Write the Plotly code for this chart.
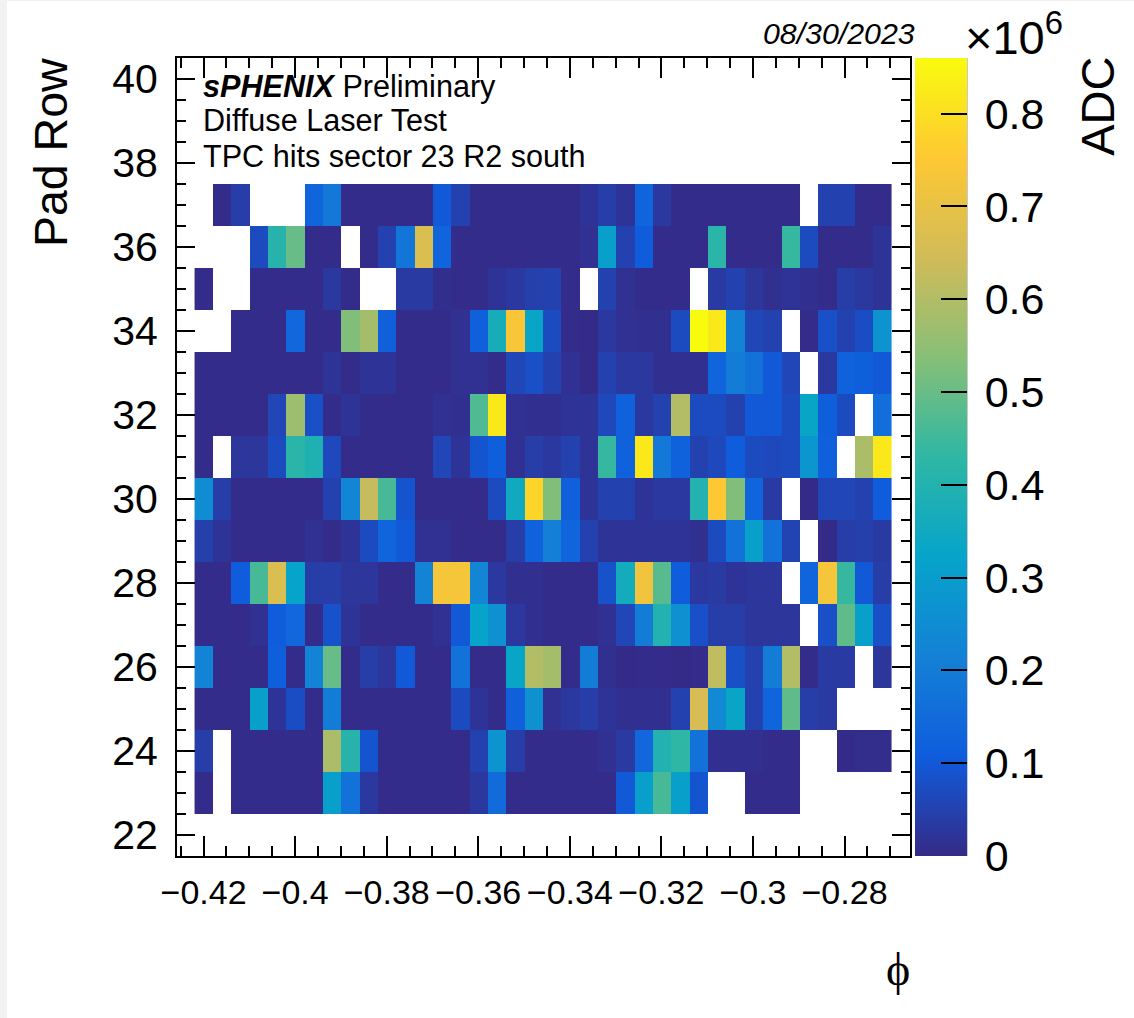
import plotly.graph_objects as go

N = None
a = 0.005
pad_rows = list(range(23, 38))

row_23 = [a,N,a,a,a,a,a,.31,.17,.03,a,a,a,a,a,.03,.15,a,a,a,a,a,a,.10,.31,.46,.31,.09,N,N,a,a,a,N,N,N,N,N]
row_24 = [.04,N,a,a,a,a,a,.59,.41,.09,a,a,a,a,a,.05,.27,.04,a,a,a,a,.015,.035,.14,.40,.43,.17,.01,.01,.01,a,a,N,N,.003,.006,.006]
row_25 = [a,a,a,.31,.02,.075,a,.20,a,a,a,a,a,a,.07,.02,a,.12,.26,.015,.03,.04,.02,.01,.01,.01,.05,.66,.24,.33,.05,.13,.49,.04,.035,N,N,N]
row_26 = [.22,a,a,a,.115,a,.22,.50,a,.04,.025,.10,a,a,.17,a,a,.33,.60,.58,a,.20,.01,.002,a,a,.002,.005,.62,.08,.05,.20,.60,a,.035,.035,N,.025]
row_27 = [a,a,a,.015,.11,.14,a,.085,.02,a,a,a,a,.015,.10,.32,.26,.03,.01,a,a,a,.015,.06,.20,.40,.26,.08,.04,.04,.025,.025,.025,N,.08,.49,.31,.08]
row_28 = [a,a,.11,.46,.67,.32,.04,.04,.025,.025,a,a,.22,.73,.73,.23,.03,.01,.01,a,a,a,.085,.36,.72,.48,.11,.03,.035,.02,.025,.025,N,.13,.73,.44,.10,.04]
row_29 = [.045,.02,a,a,a,a,.015,a,.02,.07,.13,.10,.015,.015,a,a,a,.04,.125,.21,.13,.05,.02,.02,.02,.02,.02,.01,.07,.17,.31,.17,.055,N,.002,.04,.045,.035]
row_30 = [.25,.04,a,a,a,a,a,.05,.23,.63,.46,.09,a,a,a,a,.07,.35,.78,.53,.12,.02,.05,.05,.02,.03,.03,.40,.75,.53,.13,.035,N,.002,.06,.06,.05,.11]
row_31 = [a,N,.025,.025,.07,.42,.39,.065,a,a,a,a,a,.06,.02,.09,.115,.015,.04,.03,.05,.02,.44,.125,.82,.19,.125,.05,.065,.11,.07,.065,.07,.28,.12,N,.59,.82]
row_32 = [a,a,a,a,.06,.57,.08,a,.02,a,a,a,a,.015,.01,.47,.82,.015,.01,.01,.02,.02,.065,.125,.03,.05,.60,.07,.07,.05,.10,.10,.07,.33,.115,.07,N,.16]
row_33 = [a,a,a,a,a,a,a,.02,a,.02,.02,a,a,a,.015,.015,a,.06,.08,.05,.015,.002,.05,.03,.03,.01,.01,.01,.13,.20,.17,.10,.06,N,.03,.125,.115,.10]
row_34 = [N,N,a,a,a,.14,a,a,.53,.58,.12,a,a,a,.015,.12,.37,.74,.33,.07,a,.002,.03,.015,.012,.012,.07,.86,.82,.22,.06,.05,N,a,.08,.05,.075,.27]
row_35 = [a,N,N,a,a,a,a,.03,a,N,N,.035,.035,.008,a,a,.02,.03,.045,.05,a,N,.05,.015,a,a,a,N,.035,.05,.025,.01,.02,.01,a,.04,.03,.02]
row_36 = [N,N,N,.07,.41,.50,a,a,N,a,.05,.18,.67,.13,a,a,a,a,a,a,a,.015,.31,.05,.11,a,a,a,.42,a,a,a,.44,.07,a,a,a,.02]
row_37 = [N,a,.04,N,N,N,.13,.19,a,a,a,a,a,.10,.05,a,a,a,a,a,a,.02,.04,.02,.13,.03,a,a,a,a,a,a,a,N,.05,.05,a,a]

adc_millions = [row_23,row_24,row_25,row_26,row_27,row_28,row_29,row_30,row_31,row_32,row_33,row_34,row_35,row_36,row_37]

phi_first_center = -0.41996
phi_bin_width = 0.004008
z_max = 0.86

bird = [
    [0.000, "rgb(53,42,135)"], [0.125, "rgb(15,92,221)"], [0.250, "rgb(20,129,214)"],
    [0.375, "rgb(6,164,202)"], [0.500, "rgb(46,183,164)"], [0.625, "rgb(135,191,119)"],
    [0.750, "rgb(209,187,89)"], [0.875, "rgb(254,200,50)"], [1.000, "rgb(249,251,14)"],
]

FONT = "Liberation Sans"
TICK = dict(ticks="inside", showline=True, linecolor="black", linewidth=2, mirror="ticks",
            tickcolor="black", tickwidth=1.5, showgrid=False, zeroline=False)

fig = go.Figure(go.Heatmap(
    z=adc_millions, x0=phi_first_center, dx=phi_bin_width, y=pad_rows,
    zmin=0, zmax=z_max, colorscale=bird, zsmooth=False, hoverongaps=False,
    colorbar=dict(
        x=1.0068, xanchor="left", xref="paper", y=0, yanchor="bottom", yref="paper",
        len=1, lenmode="fraction", thickness=51.7, thicknessmode="pixels", xpad=0, ypad=0,
        outlinewidth=0, ticks="inside", ticklen=26, tickwidth=1.5, tickcolor="black",
        dtick=0.1, tick0=0, tickprefix="\u2009", tickfont=dict(family=FONT, size=43, color="black"),
    ),
))

fig.update_xaxes(range=[-0.4258, -0.2657], tick0=-0.42, dtick=0.02, ticklen=20, ticklabelstandoff=5,
                 tickfont=dict(family=FONT, size=34, color="black"),
                 minor=dict(ticks="inside", dtick=0.005, tick0=-0.42, ticklen=10, tickcolor="black", tickwidth=1.5, showgrid=False),
                 **TICK)
fig.update_yaxes(range=[21.5, 40.5], tick0=22, dtick=2, ticklen=18, ticklabelstandoff=9,
                 tickfont=dict(family=FONT, size=41, color="black"),
                 minor=dict(ticks="inside", dtick=0.5, tick0=22, ticklen=9, tickcolor="black", tickwidth=1.5, showgrid=False),
                 **TICK)

W, H = 1127, 1017
OX, OY = 7, 1
L, R, T, B = 169.5, 224, 57, 162
pw, ph = W - L - R, H - T - B


def px(x):
    return (x - OX - L) / pw


def py(y):
    return 1 - (y - OY - T) / ph


def note(text, x, y, size, xanchor="left", yanchor="middle", angle=0, family=FONT):
    fig.add_annotation(text=text, x=px(x), y=py(y), xref="paper", yref="paper", showarrow=False,
                       xanchor=xanchor, yanchor=yanchor, textangle=angle,
                       font=dict(family=family, size=size, color="black"))


note("<b><i>sPHENIX</i></b> Preliminary", 201, 87, 30.6)
note("Diffuse Laser Test", 201, 120, 30.6)
note("TPC hits sector 23 R2 south", 201, 156, 30.6)
note("<i>08/30/2023</i>", 917, 33, 30.3, xanchor="right")
note("Pad Row", 50, 152.5, 46.5, xanchor="center", angle=-90)
note("ADC", 1097, 106, 47, xanchor="center", angle=-90)
note("ϕ", 898, 969, 46, xanchor="center", family="Liberation Serif")
note("×10<sup>6</sup>", 963, 34, 47)

fig.add_shape(type="line", xref="paper", yref="paper", x0=px(966.5), x1=px(966.5), y0=0, y1=1,
              line=dict(color="black", width=1.5))

fig.update_layout(width=W, height=H, autosize=False, margin=dict(l=L, r=R, t=T, b=B, pad=0),
                  paper_bgcolor="white", plot_bgcolor="white", showlegend=False)

fig.write_html("out.html", post_script=(
    "document.body.style.margin='1px 0 0 7px';document.body.style.background='#f2f2f2';"
    "document.documentElement.style.overflow='hidden';"))
